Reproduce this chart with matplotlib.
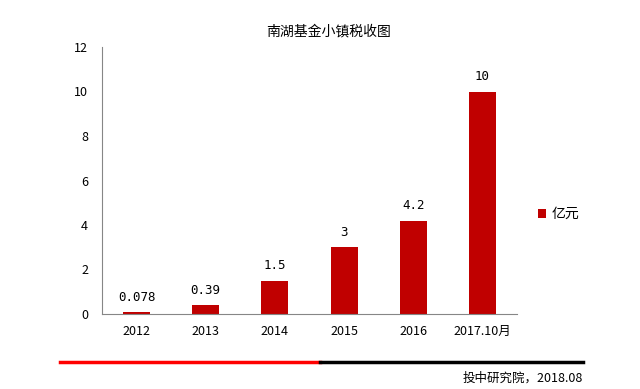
import matplotlib.pyplot as plt
from matplotlib.lines import Line2D

plt.rcParams['font.family'] = ['Noto Sans CJK SC', 'DejaVu Sans']

years = ['2012', '2013', '2014', '2015', '2016', '2017.10月']
tax = [0.078, 0.39, 1.5, 3, 4.2, 10]
labels = ['0.078', '0.39', '1.5', '3', '4.2', '10']

W, H = 640, 389
fig = plt.figure(figsize=(W / 100, H / 100), dpi=100)
ax = fig.add_axes([102 / W, 1 - 314 / H, 415 / W, 267 / H])

red = '#C00000'
bars = ax.bar(range(len(years)), tax, width=0.39, color=red, label='亿元')
for i, v in enumerate(tax):
    ax.annotate(labels[i], (i, v), xytext=(0, 6), textcoords='offset points',
                ha='center', va='bottom', fontsize=9, family=['DejaVu Sans Mono'])

ax.set_xlim(-0.5, len(years) - 0.5)
ax.set_ylim(0, 12)
ax.set_yticks(range(0, 13, 2))
ax.set_xticks(range(len(years)))
ax.set_xticklabels(years)
ax.tick_params(length=0, labelsize=9, pad=8)
ax.tick_params(axis='y', pad=10)
for s in ['top', 'right']:
    ax.spines[s].set_visible(False)
for s in ['left', 'bottom']:
    ax.spines[s].set_color('#868686')

fig.text(329 / W, 1 - 31 / H, '南湖基金小镇税收图', ha='center', va='center', fontsize=10)

ax.legend(loc='center left', bbox_to_anchor=(525 / W, 1 - 214 / H), bbox_transform=fig.transFigure,
          frameon=False, fontsize=10, handlelength=0.6, handleheight=0.6, handletextpad=0.4)

fig.add_artist(Line2D([60 / W, 320 / W], [1 - 362 / H] * 2, color='#FF0000', lw=2.5))
fig.add_artist(Line2D([320 / W, 583 / W], [1 - 362 / H] * 2, color='black', lw=2.5))
fig.text(583 / W, 1 - 378 / H, '投中研究院，2018.08', ha='right', va='center', fontsize=9)

fig.savefig('out.png', dpi=100)
